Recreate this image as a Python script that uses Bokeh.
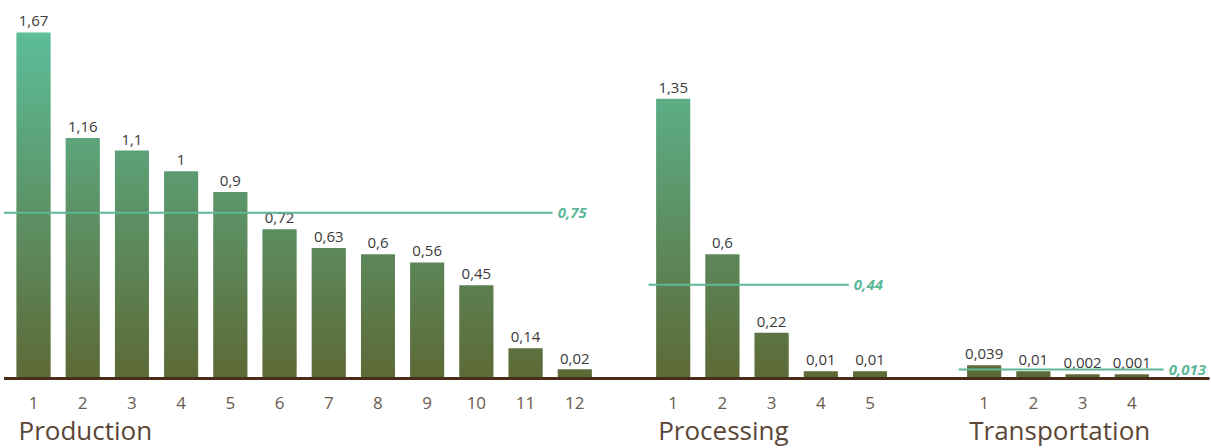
import numpy as np
from bokeh.plotting import figure
from bokeh.models import Range1d
from bokeh.core.properties import value
from bokeh.embed import file_html
from bokeh.resources import INLINE

# ---- data ----
groups = ["Production", "Processing", "Transportation"]
prod_labels = ["1,67", "1,16", "1,1", "1", "0,9", "0,72", "0,63", "0,6", "0,56", "0,45", "0,14", "0,02"]
prod_heights = [1.67, 1.16, 1.10, 1.00, 0.90, 0.72, 0.63, 0.60, 0.56, 0.45, 0.145, 0.043]
proc_labels = ["1,35", "0,6", "0,22", "0,01", "0,01"]
proc_heights = [1.35, 0.60, 0.22, 0.034, 0.034]
trans_labels = ["0,039", "0,01", "0,002", "0,001"]
trans_heights = [0.063, 0.034, 0.02, 0.02]
avg_labels = ["0,75", "0,44", "0,013"]
avg_levels = [0.80, 0.452, 0.043]

# ---- layout constants ----
group_start = [0, 13, 19.32]
avg_span = [(-0.6, 10.55), (-0.5, 3.57), (-0.52, 3.65)]
bar_w = 0.69
ymax_grad = 1.67
c_bottom = np.array([94, 106, 54])
c_top = np.array([92, 190, 154])

p = figure(width=1211, height=448, output_backend="svg", toolbar_location=None,
           x_range=Range1d(-0.671, 23.94), y_range=Range1d(-0.338, 1.824),
           x_axis_type=None, y_axis_type=None, min_border=0,
           background_fill_color="white", border_fill_color="white")
p.grid.visible = False
p.outline_line_color = None

all_labels = [prod_labels, proc_labels, trans_labels]
all_heights = [prod_heights, proc_heights, trans_heights]

seg_x, seg_b, seg_t, seg_c = [], [], [], []
bx, bh, bl = [], [], []
tx, tt = [], []
step = 0.01
for g, (labs, hs) in enumerate(zip(all_labels, all_heights)):
    for i, (lab, h) in enumerate(zip(labs, hs)):
        x = group_start[g] + i
        bx.append(x); bh.append(h); bl.append(lab)
        tx.append(x); tt.append(str(i + 1))
        b = 0.0
        while b < h:
            top = min(b + step * 1.6, h)
            mid = min(b + step / 2, h)
            t = mid / ymax_grad
            c = (c_bottom + (c_top - c_bottom) * t).astype(int)
            seg_x.append(x); seg_b.append(b); seg_t.append(top)
            seg_c.append("#%02x%02x%02x" % tuple(c))
            b += step

p.vbar(x=seg_x, bottom=seg_b, top=seg_t, width=bar_w, fill_color=seg_c, line_color=None)

# baseline
p.segment(x0=[-0.6], y0=[0], x1=[23.9], y1=[0], line_color="#4a2c1a", line_width=3)

# value labels
p.text(x=bx, y=bh, text=bl, text_align="center", text_baseline="bottom", y_offset=-6,
       text_font=value("Open Sans"), text_font_size="15px", text_color="#3a3a3a")

# tick labels
p.text(x=tx, y=[0] * len(tx), text=tt, text_align="center", text_baseline="middle", y_offset=25,
       text_font=value("Open Sans"), text_font_size="17px", text_color="#6b5b4e")

# group labels
p.text(x=[s - bar_w / 2 for s in group_start], y=[0] * 3, text=groups, text_align="left",
       text_baseline="middle", y_offset=52, x_offset=2,
       text_font=value("Open Sans"), text_font_size="26px", text_color="#5a4636")

# average lines
for g in range(3):
    x0 = group_start[g] + avg_span[g][0]
    x1 = group_start[g] + avg_span[g][1]
    p.segment(x0=[x0], y0=[avg_levels[g]], x1=[x1], y1=[avg_levels[g]],
              line_color="#5cb896", line_width=2)
    p.text(x=[x1], y=[avg_levels[g]], text=[avg_labels[g]], text_align="left",
           text_baseline="middle", x_offset=5,
           text_font=value("Open Sans"), text_font_size="15px",
           text_font_style="bold italic", text_color="#5cb896")

open("out.html", "w").write(file_html(p, INLINE))
